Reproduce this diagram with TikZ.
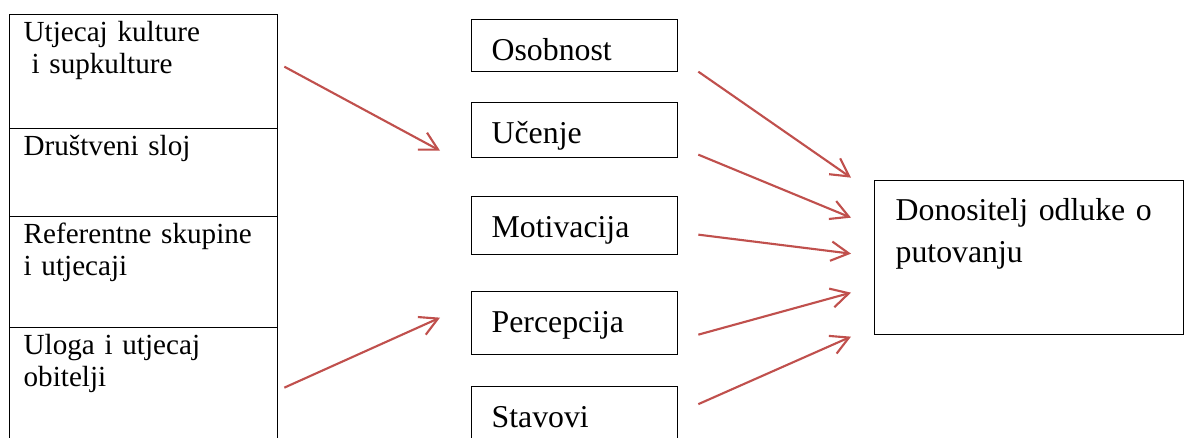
\documentclass[tikz,border=0pt]{standalone}
\usepackage{fontspec}
\setmainfont{Liberation Serif}
\usetikzlibrary{arrows.meta}
\newlength\pxu
\setlength\pxu{0.3774pt}
\definecolor{arrowred}{RGB}{192,80,77}

\begin{document}
\begin{tikzpicture}[x=\pxu,y=-\pxu,every node/.style={draw, anchor=north west, inner ysep=0pt, align=left, line width=0.5pt},
sidebox/.style={font=\fontsize{11}{12.1}\selectfont, inner xsep=14\pxu, text width=240\pxu, text height=27\pxu},
factor/.style={font=\fontsize{12}{14}\selectfont, inner xsep=20\pxu, text width=166\pxu, text height=41\pxu},
decision/.style={font=\fontsize{12}{15.9}\selectfont, inner xsep=21\pxu, text width=267\pxu, text height=40\pxu},
influence/.style={-{Straight Barb[length=6.7pt,width=7.3pt]}, draw=arrowred, line width=0.8pt}]
\useasboundingbox (0,0) rectangle (1184,438);
\node[sidebox, text depth=87\pxu] (kultura) at (9,14) {Utjecaj kulture\\\hspace*{3pt}i supkulture};
\node[sidebox, text depth=61\pxu] (sloj) at (9,128) {Društveni sloj};
\node[sidebox, text depth=84\pxu] (skupine) at (9,216) {Referentne skupine\\i utjecaji};
\node[sidebox, text depth=103\pxu] (obitelj) at (9,327) {Uloga i utjecaj\\obitelji};
\node[factor, text depth=11\pxu] (osobnost) at (471,19) {Osobnost};
\node[factor, text depth=14\pxu] (ucenje) at (471,102) {Učenje};
\node[factor, text depth=17\pxu] (motivacija) at (471,196) {Motivacija};
\node[factor, text depth=22\pxu] (percepcija) at (471,291) {Percepcija};
\node[factor, text depth=30\pxu] (stavovi) at (471,386) {Stavovi};
\node[decision, text depth=114\pxu] (odluka) at (874,180) {Donositelj odluke o\\putovanju};
\draw[influence] ([shift={(6,-5)}]kultura.east) -- ([shift={(-31,20.5)}]ucenje.west);
\draw[influence] ([shift={(6,-5)}]obitelj.east) -- ([shift={(-31,-5.5)}]percepcija.west);
\draw[influence] ([shift={(20,26)}]osobnost.east) -- ([shift={(-23,-80)}]odluka.west);
\draw[influence] ([shift={(20,24.5)}]ucenje.east) -- ([shift={(-23,-40)}]odluka.west);
\draw[influence] ([shift={(20,9)}]motivacija.east) -- ([shift={(-23,-4)}]odluka.west);
\draw[influence] ([shift={(20,11.5)}]percepcija.east) -- ([shift={(-23,35)}]odluka.west);
\draw[influence] ([shift={(20,-18)}]stavovi.east) -- ([shift={(-23,79)}]odluka.west);
\end{tikzpicture}
\end{document}
